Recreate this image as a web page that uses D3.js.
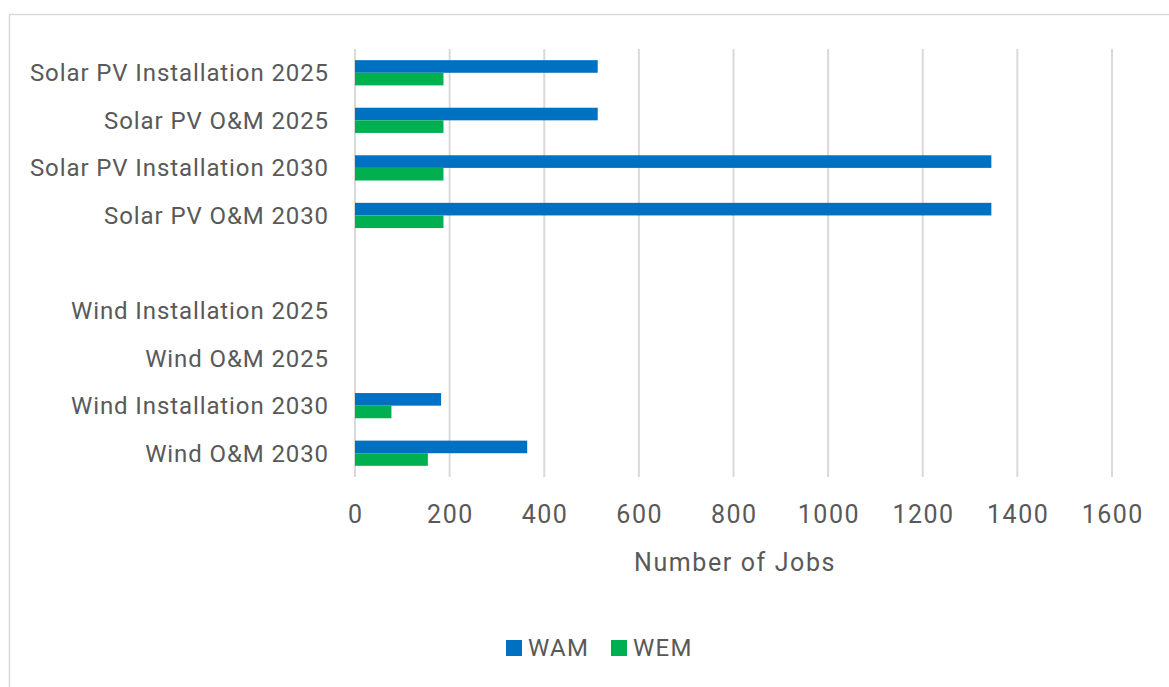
<!DOCTYPE html>
<html><head><meta charset="utf-8">
<script src="https://cdn.jsdelivr.net/npm/d3@7"></script>
<style>body{margin:0;background:#fff;} svg{display:block;font-family:Roboto,sans-serif;}</style>
</head><body>
<svg id="c" width="1169" height="687"></svg>
<script>
const categories = ["Solar PV Installation 2025","Solar PV O&M 2025","Solar PV Installation 2030","Solar PV O&M 2030","","Wind Installation 2025","Wind O&M 2025","Wind Installation 2030","Wind O&M 2030"];
const wam = [513, 513, 1345, 1345, null, 0, 0, 182, 364];
const wem = [187, 187, 187, 187, null, 0, 0, 77, 154];
const seriesNames = ["WAM","WEM"];
const colors = ["#0070C0","#00B050"];
const xTicks = [0,200,400,600,800,1000,1200,1400,1600];

const svg = d3.select("#c");
svg.append("rect").attr("x",9.5).attr("y",14.5).attr("width",1200).attr("height",700)
  .attr("fill","none").attr("stroke","#d9d9d9").attr("stroke-width",1.5);

const x = d3.scaleLinear().domain([0,1600]).range([355,1112]);
const y = d3.scaleBand().domain(d3.range(categories.length)).range([49,477]).paddingInner(0.47).paddingOuter(0.235);
const inner = d3.scaleBand().domain([0,1]).range([0,y.bandwidth()]);

svg.append("g").selectAll("line").data(xTicks).join("line")
  .attr("x1",d=>x(d)).attr("x2",d=>x(d)).attr("y1",49).attr("y2",477)
  .attr("stroke","#d9d9d9").attr("stroke-width",2);

const series = [wam, wem];
series.forEach((vals,si)=>{
  svg.append("g").selectAll("rect").data(vals.map((v,i)=>({v,i})).filter(d=>d.v))
    .join("rect")
    .attr("x",x(0)).attr("y",d=>y(d.i)+inner(si))
    .attr("width",d=>x(d.v)-x(0)).attr("height",inner.bandwidth())
    .attr("fill",colors[si]);
});

svg.append("g").selectAll("text").data(categories).join("text")
  .attr("x",329).attr("y",(d,i)=>y(i)+y.bandwidth()/2).attr("dy","0.35em")
  .attr("text-anchor","end").attr("font-size",24).attr("letter-spacing",0.9)
  .attr("fill","#595959").text(d=>d);

svg.append("g").selectAll("text").data(xTicks).join("text")
  .attr("x",d=>x(d)+0.8).attr("y",523).attr("text-anchor","middle")
  .attr("font-size",25).attr("letter-spacing",1.5).attr("fill","#595959").text(d=>d);

svg.append("text").attr("x",735).attr("y",571).attr("text-anchor","middle")
  .attr("font-size",25).attr("letter-spacing",1.6).attr("fill","#595959").text("Number of Jobs");

const leg = [{n:seriesNames[0],c:colors[0],x:506},{n:seriesNames[1],c:colors[1],x:611}];
leg.forEach(l=>{
  svg.append("rect").attr("x",l.x).attr("y",640).attr("width",16).attr("height",16).attr("fill",l.c);
  svg.append("text").attr("x",l.x+22).attr("y",656).attr("font-size",24).attr("letter-spacing",1.3)
    .attr("fill","#595959").text(l.n);
});
</script>
</body></html>
